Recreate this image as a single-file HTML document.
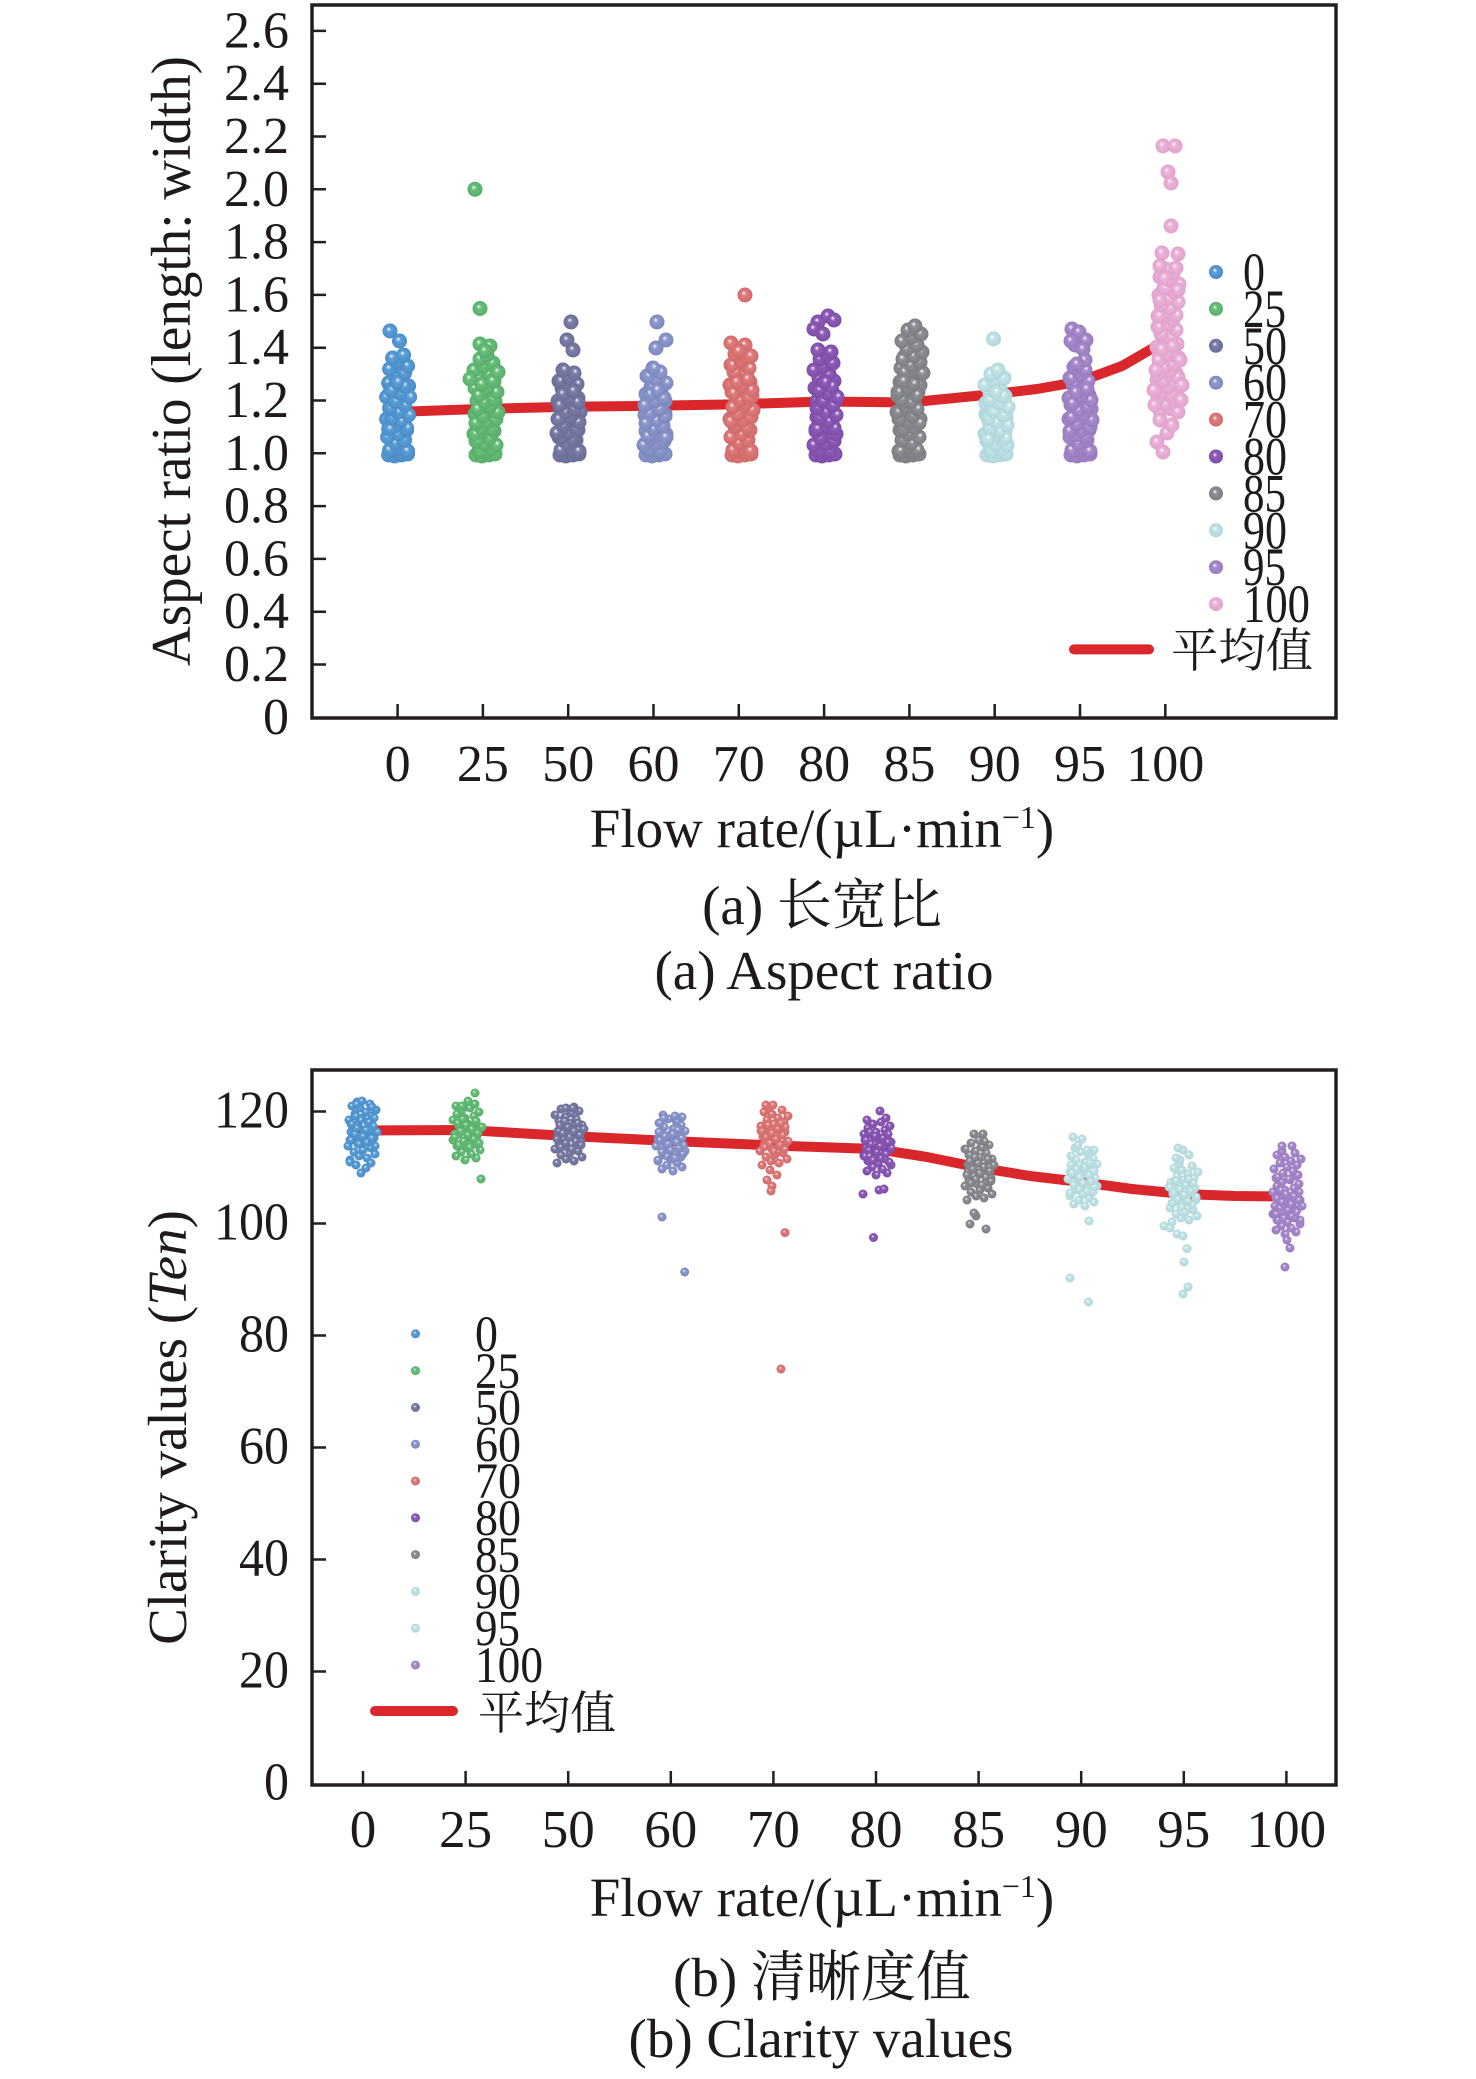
<!DOCTYPE html>
<html>
<head>
<meta charset="utf-8">
<style>
html,body{margin:0;padding:0;background:#fff;}
svg{display:block;}
text{fill:#1e1a1b;}
</style>
</head>
<body>
<svg width="1476" height="2079" viewBox="0 0 1476 2079" xmlns="http://www.w3.org/2000/svg" font-family="'Liberation Serif','Noto Serif CJK SC',serif">
<defs>
<radialGradient id="g0" fx=".4" fy=".35"><stop offset="0" stop-color="#fff"/><stop offset=".32" stop-color="#5a9fd8"/><stop offset="1" stop-color="#4a8cc6"/></radialGradient>
<radialGradient id="g1" fx=".4" fy=".35"><stop offset="0" stop-color="#fff"/><stop offset=".32" stop-color="#69c07b"/><stop offset="1" stop-color="#57ad69"/></radialGradient>
<radialGradient id="g2" fx=".4" fy=".35"><stop offset="0" stop-color="#fff"/><stop offset=".32" stop-color="#7b7ea6"/><stop offset="1" stop-color="#6a6d95"/></radialGradient>
<radialGradient id="g3" fx=".4" fy=".35"><stop offset="0" stop-color="#fff"/><stop offset=".32" stop-color="#8e99cd"/><stop offset="1" stop-color="#7c87bd"/></radialGradient>
<radialGradient id="g4" fx=".4" fy=".35"><stop offset="0" stop-color="#fff"/><stop offset=".32" stop-color="#e07c7c"/><stop offset="1" stop-color="#cf6a6a"/></radialGradient>
<radialGradient id="g5" fx=".4" fy=".35"><stop offset="0" stop-color="#fff"/><stop offset=".32" stop-color="#8e5db8"/><stop offset="1" stop-color="#7c4ca6"/></radialGradient>
<radialGradient id="g6" fx=".4" fy=".35"><stop offset="0" stop-color="#fff"/><stop offset=".32" stop-color="#8e8f95"/><stop offset="1" stop-color="#7c7d83"/></radialGradient>
<radialGradient id="g7" fx=".4" fy=".35"><stop offset="0" stop-color="#fff"/><stop offset=".32" stop-color="#c2e4e7"/><stop offset="1" stop-color="#b0d6da"/></radialGradient>
<radialGradient id="g8" fx=".4" fy=".35"><stop offset="0" stop-color="#fff"/><stop offset=".32" stop-color="#a98ccd"/><stop offset="1" stop-color="#987bbd"/></radialGradient>
<radialGradient id="g9" fx=".4" fy=".35"><stop offset="0" stop-color="#fff"/><stop offset=".32" stop-color="#ecb3d9"/><stop offset="1" stop-color="#e0a2cc"/></radialGradient>

<g id="S1"><circle cx="-8" cy="-2" r="7.5"/><circle cx="3" cy="-4" r="7.5"/><circle cx="10" cy="-1" r="7.5"/><circle cx="-2" cy="-9" r="7.5"/><circle cx="7" cy="-12" r="7.5"/><circle cx="-10" cy="-15" r="7.5"/><circle cx="1" cy="-18" r="7.5"/><circle cx="9" cy="-22" r="7.5"/><circle cx="-6" cy="-25" r="7.5"/><circle cx="4" cy="-29" r="7.5"/><circle cx="-11" cy="-33" r="7.5"/><circle cx="-1" cy="-37" r="7.5"/><circle cx="8" cy="-40" r="7.5"/><circle cx="-5" cy="-44" r="7.5"/><circle cx="2" cy="-48" r="7.5"/></g>
<g id="S2"><circle cx="5" cy="-1" r="7.5"/><circle cx="-6" cy="-3" r="7.5"/><circle cx="-11" cy="-7" r="7.5"/><circle cx="1" cy="-8" r="7.5"/><circle cx="9" cy="-11" r="7.5"/><circle cx="-4" cy="-14" r="7.5"/><circle cx="11" cy="-18" r="7.5"/><circle cx="-9" cy="-21" r="7.5"/><circle cx="3" cy="-24" r="7.5"/><circle cx="-2" cy="-28" r="7.5"/><circle cx="7" cy="-31" r="7.5"/><circle cx="-8" cy="-35" r="7.5"/><circle cx="10" cy="-38" r="7.5"/><circle cx="0" cy="-42" r="7.5"/><circle cx="-5" cy="-46" r="7.5"/><circle cx="6" cy="-49" r="7.5"/></g>
<g id="R"><circle cx="-9" cy="0" r="7.5"/><circle cx="-3" cy="1" r="7.5"/><circle cx="4" cy="0" r="7.5"/><circle cx="10" cy="-1" r="7.5"/><circle cx="0" cy="-3" r="7.5"/><circle cx="-6" cy="-4" r="7.5"/></g>

<g id="B1"><circle cx="-12" cy="0" r="4.5"/><circle cx="5" cy="-2" r="4.5"/><circle cx="-3" cy="-4" r="4.5"/><circle cx="13" cy="-6" r="4.5"/><circle cx="-8" cy="-8" r="4.5"/><circle cx="1" cy="-10" r="4.5"/><circle cx="9" cy="-12" r="4.5"/><circle cx="-14" cy="-14" r="4.5"/><circle cx="-2" cy="-16" r="4.5"/><circle cx="7" cy="-18" r="4.5"/><circle cx="-10" cy="-20" r="4.5"/><circle cx="12" cy="-22" r="4.5"/><circle cx="-5" cy="-24" r="4.5"/><circle cx="3" cy="-26" r="4.5"/><circle cx="-11" cy="-28" r="4.5"/><circle cx="8" cy="-30" r="4.5"/></g>
<g id="B2"><circle cx="2" cy="-1" r="4.5"/><circle cx="-9" cy="-3" r="4.5"/><circle cx="11" cy="-5" r="4.5"/><circle cx="-4" cy="-7" r="4.5"/><circle cx="6" cy="-9" r="4.5"/><circle cx="-13" cy="-11" r="4.5"/><circle cx="0" cy="-13" r="4.5"/><circle cx="10" cy="-15" r="4.5"/><circle cx="-7" cy="-17" r="4.5"/><circle cx="4" cy="-19" r="4.5"/><circle cx="14" cy="-21" r="4.5"/><circle cx="-2" cy="-23" r="4.5"/><circle cx="-10" cy="-25" r="4.5"/><circle cx="8" cy="-27" r="4.5"/><circle cx="-5" cy="-29" r="4.5"/></g>
</defs>

<rect x="0" y="0" width="1476" height="2079" fill="#fff"/>

<!-- ================= TOP CHART ================= -->
<rect x="312" y="5" width="1024" height="713" fill="#fff" stroke="#231f20" stroke-width="3.5"/>
<g stroke="#231f20" stroke-width="2.5">
<path d="M312 664.5h14M312 611.7h14M312 558.9h14M312 506.1h14M312 453.3h14M312 400.5h14M312 347.7h14M312 294.9h14M312 242.1h14M312 189.3h14M312 136.5h14M312 83.7h14M312 30.9h14"/>
<path d="M397.6 718v-14M482.9 718v-14M568.2 718v-14M653.5 718v-14M738.8 718v-14M824.1 718v-14M909.4 718v-14M994.7 718v-14M1080 718v-14M1165.3 718v-14"/>
</g>
<g font-size="52" text-anchor="end">
<text x="289" y="733.8">0</text>
<text x="289" y="681">0.2</text>
<text x="289" y="628.2">0.4</text>
<text x="289" y="575.4">0.6</text>
<text x="289" y="522.6">0.8</text>
<text x="289" y="469.8">1.0</text>
<text x="289" y="417">1.2</text>
<text x="289" y="364.2">1.4</text>
<text x="289" y="311.4">1.6</text>
<text x="289" y="258.6">1.8</text>
<text x="289" y="205.8">2.0</text>
<text x="289" y="153">2.2</text>
<text x="289" y="100.2">2.4</text>
<text x="289" y="47.4">2.6</text>
</g>
<g font-size="52" text-anchor="middle">
<text x="397.6" y="781">0</text>
<text x="482.9" y="781">25</text>
<text x="568.2" y="781">50</text>
<text x="653.5" y="781">60</text>
<text x="738.8" y="781">70</text>
<text x="824.1" y="781">80</text>
<text x="909.4" y="781">85</text>
<text x="994.7" y="781">90</text>
<text x="1080" y="781">95</text>
<text x="1165.3" y="781">100</text>
</g>
<text transform="translate(190,361) rotate(-90)" font-size="56" text-anchor="middle" textLength="610" lengthAdjust="spacingAndGlyphs">Aspect ratio (length: width)</text>
<text x="822" y="847" font-size="55" text-anchor="middle">Flow rate/(µL·min<tspan font-size="32" dy="-19">−1</tspan><tspan dy="19">)</tspan></text>
<text x="822" y="924" font-size="55" text-anchor="middle">(a) 长宽比</text>
<text x="824" y="989" font-size="55" text-anchor="middle">(a) Aspect ratio</text>

<!-- mean line top -->
<polyline points="397.6,411.9 482.9,408.9 568.2,406.8 653.5,405.8 738.8,404.2 824.1,401.5 909.4,402.5 994.7,394 1037,389 1080,381.5 1122,366 1165.3,341" fill="none" stroke="#d9272b" stroke-width="10" stroke-linejoin="round" stroke-linecap="round"/>

<!-- clusters top -->
<g fill="url(#g0)">
<use href="#R" transform="translate(397.6,455)"/>
<use href="#S1" transform="translate(397.6,452)"/>
<use href="#S2" transform="translate(397.6,404)"/>
<use href="#S1" transform="translate(398.6,430) scale(-1,1)"/>
<circle cx="390" cy="331" r="7.5"/><circle cx="399.5" cy="341" r="7.5"/>
</g>
<g fill="url(#g1)">
<use href="#R" transform="translate(485,455)"/>
<use href="#S2" transform="translate(485,452) scale(-1,1)"/>
<use href="#S1" transform="translate(485,403)"/>
<use href="#S2" transform="translate(487,430)"/>
<circle cx="480" cy="344" r="7.5"/><circle cx="490" cy="346" r="7.5"/><circle cx="485" cy="351" r="7.5"/><circle cx="470" cy="379" r="7.5"/><circle cx="498" cy="372" r="7.5"/>
<circle cx="475" cy="189.3" r="7.5"/><circle cx="480" cy="308.5" r="7.5"/>
</g>
<g fill="url(#g2)">
<use href="#R" transform="translate(569,455)"/>
<use href="#S1" transform="translate(569,452)"/>
<use href="#S2" transform="translate(569,419) scale(-1,1)"/>
<use href="#S2" transform="translate(568,440)"/>
<circle cx="571" cy="322" r="7.5"/><circle cx="567" cy="340" r="7.5"/><circle cx="573" cy="350" r="7.5"/>
</g>
<g fill="url(#g3)">
<use href="#R" transform="translate(655,455)"/>
<use href="#S2" transform="translate(655,452)"/>
<use href="#S1" transform="translate(655,416) scale(-1,1)"/>
<use href="#S1" transform="translate(656,438)"/>
<circle cx="657" cy="322" r="7.5"/><circle cx="666" cy="340" r="7.5"/><circle cx="656" cy="348" r="7.5"/>
</g>
<g fill="url(#g4)">
<use href="#R" transform="translate(741,455)"/>
<use href="#S1" transform="translate(741,452)"/>
<use href="#S2" transform="translate(741,403) scale(-1,1)"/>
<use href="#S2" transform="translate(742,428)"/>
<circle cx="731" cy="343" r="7.5"/><circle cx="745" cy="345" r="7.5"/><circle cx="739" cy="351" r="7.5"/><circle cx="751" cy="356" r="7.5"/>
<circle cx="745" cy="295" r="7.5"/>
</g>
<g fill="url(#g5)">
<use href="#R" transform="translate(825,455)"/>
<use href="#S2" transform="translate(825,452)"/>
<use href="#S1" transform="translate(825,403)"/>
<use href="#S1" transform="translate(826,430) scale(-1,1)"/>
<circle cx="818" cy="350" r="7.5"/><circle cx="831" cy="352" r="7.5"/>
<circle cx="818" cy="322" r="7.5"/><circle cx="828" cy="316" r="7.5"/><circle cx="834" cy="320" r="7.5"/><circle cx="814" cy="329" r="7.5"/><circle cx="823" cy="334" r="7.5"/>
</g>
<g fill="url(#g6)">
<use href="#R" transform="translate(909,455)"/>
<use href="#S1" transform="translate(909,452) scale(-1,1)"/>
<use href="#S2" transform="translate(909,403)"/>
<use href="#S1" transform="translate(913,374)"/>
<use href="#S2" transform="translate(908,430) scale(-1,1)"/>
</g>
<g fill="url(#g7)">
<use href="#R" transform="translate(996,455)"/>
<use href="#S2" transform="translate(996,452) scale(-1,1)"/>
<use href="#S1" transform="translate(996,418)"/>
<use href="#S1" transform="translate(997,440) scale(-1,1)"/>
<circle cx="993.5" cy="339" r="7.5"/>
</g>
<g fill="url(#g8)">
<use href="#R" transform="translate(1080,455)"/>
<use href="#S1" transform="translate(1080,452)"/>
<use href="#S2" transform="translate(1080,416) scale(-1,1)"/>
<use href="#S2" transform="translate(1081,438)"/>
<circle cx="1072" cy="329" r="7.5"/><circle cx="1079" cy="332" r="7.5"/><circle cx="1086" cy="340" r="7.5"/><circle cx="1075" cy="345" r="7.5"/><circle cx="1083" cy="349" r="7.5"/><circle cx="1071" cy="341" r="7.5"/><circle cx="1085" cy="360" r="7.5"/><circle cx="1077" cy="364" r="7.5"/>
</g>
<g fill="url(#g9)">
<use href="#S1" transform="translate(1168,413)"/>
<use href="#S2" transform="translate(1168,365) scale(-1,1)"/>
<use href="#S1" transform="translate(1168,317) scale(-1,1)"/>
<use href="#S2" transform="translate(1167,395)"/>
<circle cx="1154" cy="390" r="7.5"/><circle cx="1182" cy="385" r="7.5"/><circle cx="1156" cy="370" r="7.5"/><circle cx="1181" cy="400" r="7.5"/><circle cx="1155" cy="405" r="7.5"/><circle cx="1180" cy="360" r="7.5"/><circle cx="1160" cy="300" r="7.5"/><circle cx="1178" cy="290" r="7.5"/><circle cx="1165" cy="278" r="7.5"/><circle cx="1160" cy="266" r="7.5"/><circle cx="1176" cy="268" r="7.5"/>
<circle cx="1167" cy="433" r="7.5"/><circle cx="1157" cy="442" r="7.5"/><circle cx="1163" cy="452" r="7.5"/><circle cx="1172" cy="425" r="7.5"/><circle cx="1160" cy="420" r="7.5"/>
<circle cx="1163" cy="146" r="7.5"/><circle cx="1175" cy="146" r="7.5"/><circle cx="1168" cy="172" r="7.5"/><circle cx="1171" cy="183" r="7.5"/><circle cx="1171" cy="226" r="7.5"/><circle cx="1162" cy="253" r="7.5"/><circle cx="1178" cy="254" r="7.5"/>
</g>

<!-- legend top -->
<circle cx="1216" cy="272" r="7" fill="url(#g0)"/>
<circle cx="1216" cy="308.9" r="7" fill="url(#g1)"/>
<circle cx="1216" cy="345.8" r="7" fill="url(#g2)"/>
<circle cx="1216" cy="382.7" r="7" fill="url(#g3)"/>
<circle cx="1216" cy="419.6" r="7" fill="url(#g4)"/>
<circle cx="1216" cy="456.5" r="7" fill="url(#g5)"/>
<circle cx="1216" cy="493.4" r="7" fill="url(#g6)"/>
<circle cx="1216" cy="530.3" r="7" fill="url(#g7)"/>
<circle cx="1216" cy="567.2" r="7" fill="url(#g8)"/>
<circle cx="1216" cy="604.1" r="7" fill="url(#g9)"/>
<g font-size="54">
<text x="1243" y="290" textLength="22" lengthAdjust="spacingAndGlyphs">0</text>
<text x="1243" y="326.9" textLength="43" lengthAdjust="spacingAndGlyphs">25</text>
<text x="1243" y="363.8" textLength="44" lengthAdjust="spacingAndGlyphs">50</text>
<text x="1243" y="400.7" textLength="44" lengthAdjust="spacingAndGlyphs">60</text>
<text x="1243" y="437.6" textLength="44" lengthAdjust="spacingAndGlyphs">70</text>
<text x="1243" y="474.5" textLength="44" lengthAdjust="spacingAndGlyphs">80</text>
<text x="1243" y="511.4" textLength="43" lengthAdjust="spacingAndGlyphs">85</text>
<text x="1243" y="548.3" textLength="44" lengthAdjust="spacingAndGlyphs">90</text>
<text x="1243" y="585.2" textLength="43" lengthAdjust="spacingAndGlyphs">95</text>
<text x="1243" y="622.1" textLength="67" lengthAdjust="spacingAndGlyphs">100</text>
</g>
<line x1="1074" y1="649.4" x2="1149" y2="649.4" stroke="#d9272b" stroke-width="10" stroke-linecap="round"/>
<text x="1171" y="667" font-size="47" textLength="142" lengthAdjust="spacingAndGlyphs">平均值</text>

<!-- ================= BOTTOM CHART ================= -->
<rect x="312" y="1070" width="1024" height="715" fill="none" stroke="#231f20" stroke-width="3.5"/>
<g stroke="#231f20" stroke-width="2.5">
<path d="M312 1671.5h14M312 1559.5h14M312 1447.5h14M312 1335.5h14M312 1223.5h14M312 1111.5h14"/>
<path d="M363 1785v-14M465.6 1785v-14M568.2 1785v-14M670.8 1785v-14M773.4 1785v-14M876 1785v-14M978.6 1785v-14M1081.2 1785v-14M1183.8 1785v-14M1286.4 1785v-14"/>
</g>
<g font-size="53" text-anchor="end">
<text x="289" y="1799.5" textLength="25" lengthAdjust="spacingAndGlyphs">0</text>
<text x="289" y="1687.5" textLength="50" lengthAdjust="spacingAndGlyphs">20</text>
<text x="289" y="1575.5" textLength="50" lengthAdjust="spacingAndGlyphs">40</text>
<text x="289" y="1463.5" textLength="50" lengthAdjust="spacingAndGlyphs">60</text>
<text x="289" y="1351.5" textLength="50" lengthAdjust="spacingAndGlyphs">80</text>
<text x="289" y="1239.5" textLength="75" lengthAdjust="spacingAndGlyphs">100</text>
<text x="289" y="1127.5" textLength="75" lengthAdjust="spacingAndGlyphs">120</text>
</g>
<g font-size="53" text-anchor="middle">
<text x="363" y="1847">0</text>
<text x="465.6" y="1847">25</text>
<text x="568.2" y="1847">50</text>
<text x="670.8" y="1847">60</text>
<text x="773.4" y="1847">70</text>
<text x="876" y="1847">80</text>
<text x="978.6" y="1847">85</text>
<text x="1081.2" y="1847">90</text>
<text x="1183.8" y="1847">95</text>
<text x="1286.4" y="1847">100</text>
</g>
<text transform="translate(186,1427.5) rotate(-90)" font-size="55" text-anchor="middle">Clarity values (<tspan font-style="italic">Ten</tspan>)</text>
<text x="822" y="1916" font-size="55" text-anchor="middle">Flow rate/(µL·min<tspan font-size="32" dy="-19">−1</tspan><tspan dy="19">)</tspan></text>
<text x="822" y="1996" font-size="55" text-anchor="middle">(b) 清晰度值</text>
<text x="821" y="2057" font-size="55" text-anchor="middle">(b) Clarity values</text>

<!-- mean line bottom -->
<polyline points="363,1130.5 465.6,1130 568.2,1136 670.8,1141 773.4,1145.5 876,1149 927,1157 978.6,1167.5 1030,1176 1081.2,1182 1132,1189 1183.8,1194 1235,1196 1286.4,1196.6" fill="none" stroke="#d9272b" stroke-width="10" stroke-linejoin="round" stroke-linecap="round"/>

<!-- clusters bottom -->
<g fill="url(#g0)">
<use href="#B1" transform="translate(362,1160)"/>
<use href="#B2" transform="translate(362,1131)"/>
<use href="#B1" transform="translate(363,1146) scale(-1,1)"/>
<circle cx="356" cy="1165" r="4.5"/><circle cx="366" cy="1168" r="4.5"/><circle cx="361" cy="1173" r="4.5"/><circle cx="371" cy="1163" r="4.5"/><circle cx="350" cy="1162" r="4.5"/><circle cx="357" cy="1104" r="4.5"/><circle cx="362" cy="1101" r="4.5"/><circle cx="372" cy="1107" r="4.5"/>
</g>
<g fill="url(#g1)">
<use href="#B2" transform="translate(467,1161) scale(-1,1)"/>
<use href="#B1" transform="translate(467,1134)"/>
<use href="#B2" transform="translate(468,1148)"/>
<circle cx="468" cy="1101" r="4.5"/><circle cx="462" cy="1106" r="4.5"/>
<circle cx="475" cy="1093" r="4.5"/><circle cx="481" cy="1179" r="4.5"/>
</g>
<g fill="url(#g2)">
<use href="#B1" transform="translate(569,1163)"/>
<use href="#B2" transform="translate(569,1136) scale(-1,1)"/>
<use href="#B2" transform="translate(570,1150)"/>
<circle cx="566" cy="1108" r="4.5"/><circle cx="573" cy="1108" r="4.5"/>
</g>
<g fill="url(#g3)">
<use href="#B2" transform="translate(671,1172)"/>
<use href="#B1" transform="translate(671,1145) scale(-1,1)"/>
<use href="#B1" transform="translate(670,1160)"/>
<circle cx="664" cy="1118" r="4.5"/><circle cx="675" cy="1116" r="4.5"/>
<circle cx="662" cy="1217" r="4.5"/><circle cx="684.7" cy="1272" r="4.5"/>
</g>
<g fill="url(#g4)">
<use href="#B1" transform="translate(774,1165)"/>
<use href="#B2" transform="translate(774,1137)"/>
<use href="#B2" transform="translate(775,1152) scale(-1,1)"/>
<circle cx="770" cy="1170" r="4.5"/><circle cx="777" cy="1175" r="4.5"/><circle cx="767" cy="1180" r="4.5"/><circle cx="772" cy="1186" r="4.5"/><circle cx="771" cy="1191" r="4.5"/><circle cx="766" cy="1105" r="4.5"/><circle cx="773" cy="1105" r="4.5"/>
<circle cx="785" cy="1232.6" r="4.5"/><circle cx="781" cy="1369" r="4.5"/>
</g>
<g fill="url(#g5)">
<use href="#B2" transform="translate(878,1176) scale(-1,1)"/>
<use href="#B1" transform="translate(878,1148)"/>
<use href="#B1" transform="translate(877,1162) scale(-1,1)"/>
<circle cx="880" cy="1111" r="4.5"/>
<circle cx="863" cy="1194" r="4.5"/><circle cx="879" cy="1190" r="4.5"/><circle cx="884" cy="1189" r="4.5"/>
<circle cx="873.5" cy="1237.5" r="4.5"/>
</g>
<g fill="url(#g6)">
<use href="#B1" transform="translate(979,1200)"/>
<use href="#B2" transform="translate(979,1170) scale(-1,1)"/>
<use href="#B2" transform="translate(980,1186)"/>
<circle cx="974" cy="1134" r="4.5"/><circle cx="983" cy="1134" r="4.5"/><circle cx="979" cy="1140" r="4.5"/>
<circle cx="976" cy="1216" r="4.5"/><circle cx="970" cy="1224" r="4.5"/><circle cx="986" cy="1229" r="4.5"/><circle cx="974" cy="1213" r="4.5"/>
</g>
<g fill="url(#g7)">
<use href="#B2" transform="translate(1083,1207)"/>
<use href="#B1" transform="translate(1083,1178) scale(-1,1)"/>
<use href="#B1" transform="translate(1082,1193)"/>
<circle cx="1073" cy="1137" r="4.5"/><circle cx="1082" cy="1139" r="4.5"/><circle cx="1078" cy="1145" r="4.5"/><circle cx="1087" cy="1150" r="4.5"/>
<circle cx="1089" cy="1221" r="4.5"/><circle cx="1070" cy="1278" r="4.5"/><circle cx="1088.5" cy="1302" r="4.5"/>
</g>
<g fill="url(#g7)">
<use href="#B1" transform="translate(1184,1222)"/>
<use href="#B2" transform="translate(1184,1193)"/>
<use href="#B2" transform="translate(1183,1208) scale(-1,1)"/>
<circle cx="1180" cy="1160" r="4.5"/><circle cx="1189" cy="1155" r="4.5"/><circle cx="1183" cy="1150" r="4.5"/><circle cx="1176" cy="1158" r="4.5"/><circle cx="1178" cy="1148" r="4.5"/>
<circle cx="1164" cy="1226" r="4.5"/><circle cx="1177" cy="1234" r="4.5"/><circle cx="1183" cy="1236" r="4.5"/><circle cx="1170" cy="1228" r="4.5"/>
<circle cx="1187" cy="1248.6" r="4.5"/><circle cx="1184" cy="1262" r="4.5"/><circle cx="1188" cy="1287" r="4.5"/><circle cx="1183" cy="1294" r="4.5"/>
</g>
<g fill="url(#g8)">
<use href="#B2" transform="translate(1287,1235) scale(-1,1)"/>
<use href="#B1" transform="translate(1287,1206)"/>
<use href="#B2" transform="translate(1287,1180)"/>
<use href="#B1" transform="translate(1288,1220) scale(-1,1)"/>
<circle cx="1282" cy="1146" r="4.5"/><circle cx="1292" cy="1146" r="4.5"/><circle cx="1287" cy="1240" r="4.5"/><circle cx="1290" cy="1248" r="4.5"/>
<circle cx="1285" cy="1267" r="4.5"/>
</g>

<!-- legend bottom -->
<circle cx="415.5" cy="1333.8" r="4.5" fill="url(#g0)"/>
<circle cx="415.5" cy="1370.6" r="4.5" fill="url(#g1)"/>
<circle cx="415.5" cy="1407.4" r="4.5" fill="url(#g2)"/>
<circle cx="415.5" cy="1444.2" r="4.5" fill="url(#g3)"/>
<circle cx="415.5" cy="1481" r="4.5" fill="url(#g4)"/>
<circle cx="415.5" cy="1517.8" r="4.5" fill="url(#g5)"/>
<circle cx="415.5" cy="1554.6" r="4.5" fill="url(#g6)"/>
<circle cx="415.5" cy="1591.4" r="4.5" fill="url(#g7)"/>
<circle cx="415.5" cy="1628.2" r="4.5" fill="url(#g7)"/>
<circle cx="415.5" cy="1665" r="4.5" fill="url(#g8)"/>
<g font-size="51">
<text x="475" y="1351" textLength="23" lengthAdjust="spacingAndGlyphs">0</text>
<text x="475" y="1387.8" textLength="45" lengthAdjust="spacingAndGlyphs">25</text>
<text x="475" y="1424.6" textLength="46" lengthAdjust="spacingAndGlyphs">50</text>
<text x="475" y="1461.4" textLength="46" lengthAdjust="spacingAndGlyphs">60</text>
<text x="475" y="1498.2" textLength="46" lengthAdjust="spacingAndGlyphs">70</text>
<text x="475" y="1535" textLength="46" lengthAdjust="spacingAndGlyphs">80</text>
<text x="475" y="1571.8" textLength="45" lengthAdjust="spacingAndGlyphs">85</text>
<text x="475" y="1608.6" textLength="46" lengthAdjust="spacingAndGlyphs">90</text>
<text x="475" y="1645.4" textLength="45" lengthAdjust="spacingAndGlyphs">95</text>
<text x="475" y="1682.2" textLength="68" lengthAdjust="spacingAndGlyphs">100</text>
</g>
<line x1="375" y1="1711" x2="453" y2="1711" stroke="#d9272b" stroke-width="10" stroke-linecap="round"/>
<text x="478" y="1729" font-size="46" textLength="138" lengthAdjust="spacingAndGlyphs">平均值</text>
</svg>
</body>
</html>
